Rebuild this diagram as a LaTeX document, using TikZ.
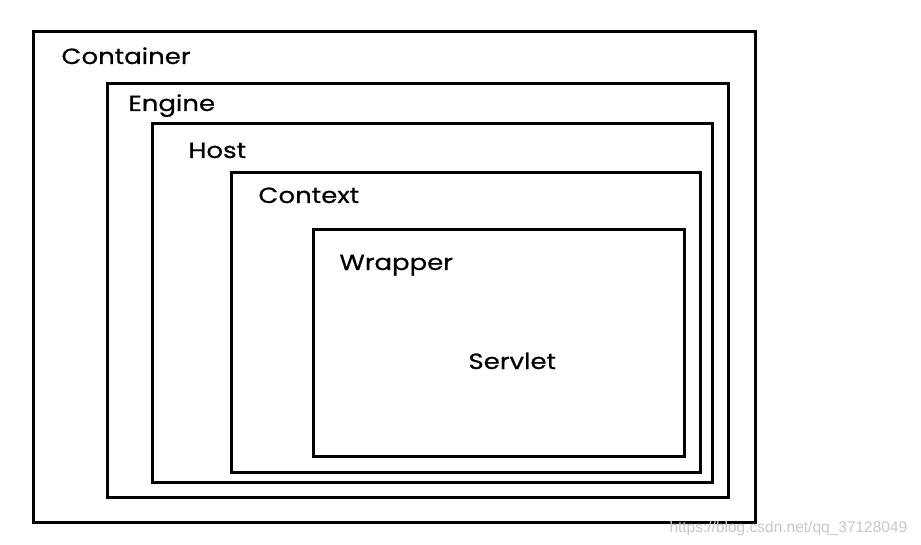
\documentclass[tikz,border=0pt]{standalone}
\usepackage{fontspec}
\setmainfont{Poppins}[FakeStretch=1.18, FakeBold=0.6]
\newfontfamily\markfont{Liberation Sans}
\tikzset{
every picture/.style={
line width=3pt
}}

\begin{document}
\begin{tikzpicture}[x=1pt, y=-1pt,
frame/.style = {draw=black, line join=miter},
label/.style = {anchor=base west, inner sep=0pt, font=\fontsize{22}{22}\selectfont}]

\useasboundingbox (0,0) rectangle (921,545);

% boxes: container, engine, host, context, wrapper
\draw [frame] (33,32) rectangle (755,522);
\draw [frame] (107,84) rectangle (728,497);
\draw [frame] (152,124) rectangle (712,482);
\draw [frame] (231,173) rectangle (700,472);
\draw [frame] (313,230) rectangle (684,456);

\node [label] (container) at (60,64)  {Container};
\node [label] (engine)    at (127,111) {Engine};
\node [label] (host)      at (187,158) {Host};
\node [label] (context)   at (257,203) {Context};
\node [label] (wrapper)   at (338,270) {Wrapper};
\node [label] (servlet)   at (467,369) {Servlet};

\node [anchor=base west, inner sep=0pt, text=black!22, font=\markfont\fontsize{15.5}{15.5}\selectfont]
  (mark) at (668,532) {https://blog.csdn.net/qq\_37128049};

\end{tikzpicture}
\end{document}
